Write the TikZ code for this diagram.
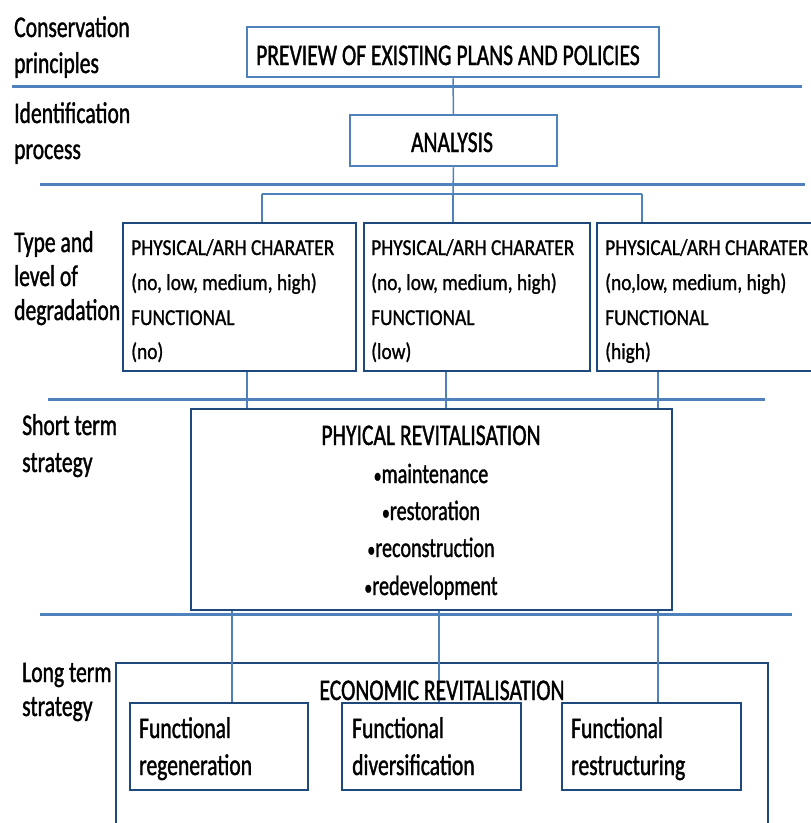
\documentclass[tikz,border=0pt]{standalone}
\usepackage{fontspec}
\setmainfont{Carlito}
\newfontfamily\labfont[FakeStretch=0.72,FakeBold=1.2]{Carlito}
\newfontfamily\boxfont[FakeStretch=0.85,FakeBold=1.0]{Carlito}
\definecolor{sepblue}{RGB}{79,129,189}
\definecolor{navy}{RGB}{31,73,125}
\newcommand{\smbul}{{\fontsize{22}{22}\selectfont•}}
\tikzset{
  seprule/.style={draw=sepblue,line width=3pt},
  conn/.style={draw=sepblue,line width=1.5pt},
  topbox/.style={draw=sepblue,line width=2.5pt,inner sep=0pt},
  navybox/.style={draw=navy,line width=2pt,inner sep=0pt},
  lab/.style={anchor=base west,inner sep=0pt,font=\labfont\fontsize{30}{36}\selectfont},
  big/.style={anchor=base,inner sep=0pt,font=\labfont\fontsize{30}{36}\selectfont},
  mid/.style={anchor=base,inner sep=0pt,font=\labfont\fontsize{30}{34}\selectfont},
  bul/.style={anchor=base,inner sep=0pt,font=\labfont\fontsize{28}{34}\selectfont},
  midl/.style={anchor=base west,inner sep=0pt,font=\labfont\fontsize{30}{34}\selectfont},
  small/.style={anchor=base west,inner sep=0pt,font=\boxfont\fontsize{22.8}{26}\selectfont}
}
\begin{document}
\begin{tikzpicture}[x=1pt,y=-1pt]
\useasboundingbox (0,0) rectangle (811,823);
\clip (0,0) rectangle (811,823);
% separator rules
\coordinate (s1a) at (12,86);  \coordinate (s1b) at (802,86);
\coordinate (s2a) at (40,184); \coordinate (s2b) at (805,184);
\coordinate (s3a) at (48,399); \coordinate (s3b) at (765,399);
\coordinate (s4a) at (40,614); \coordinate (s4b) at (792,614);
\draw[seprule] (s1a) -- (s1b);
\draw[seprule] (s2a) -- (s2b);
\draw[seprule] (s3a) -- (s3b);
\draw[seprule] (s4a) -- (s4b);
% left labels
\node[lab] (c1) at (14,37) {Conservation};
\node[lab] (c2) at (14,73) {principles};
\node[lab] (i1) at (14,123) {Identification};
\node[lab] (i2) at (14,159) {process};
\node[lab] (t1) at (14,252) {Type and};
\node[lab] (t2) at (14,286) {level of};
\node[lab] (t3) at (14,320) {degradation};
\node[lab] (st1) at (22,435) {Short term};
\node[lab] (st2) at (22,472) {strategy};
\node[lab] (lt1) at (22,682) {Long term};
\node[lab] (lt2) at (22,716) {strategy};
% boxes
\node[topbox,minimum width=412pt,minimum height=50pt] (pre) at (453,52) {};
\node[big] (pret) at (448,65) {PREVIEW OF EXISTING PLANS AND POLICIES};
\node[topbox,minimum width=207pt,minimum height=51pt] (ana) at (453.5,140.5) {};
\node[big] (anat) at (452,152) {ANALYSIS};
\node[navybox,minimum width=233pt,minimum height=148pt] (ba) at (239.5,297) {};
\node[navybox,minimum width=226pt,minimum height=148pt] (bb) at (477,297) {};
\node[navybox,minimum width=218pt,minimum height=148pt] (bc) at (706,297) {};
\foreach \n/\x/\p in {a/131/{(no, low, medium, high)},b/371/{(no, low, medium, high)},c/605/{(no,low, medium, high)}}{
  \node[small] (\n1) at (\x,255) {PHYSICAL/ARH CHARATER};
  \node[small] (\n2) at (\x,290) {\p};
  \node[small] (\n3) at (\x,325) {FUNCTIONAL};
}
\node[small] (a4) at (131,359) {(no)};
\node[small] (b4) at (371,359) {(low)};
\node[small] (c4) at (605,359) {(high)};
\node[navybox,minimum width=481pt,minimum height=201pt] (phy) at (431.5,509.5) {};
\node[mid] (phyt) at (431,445) {PHYICAL REVITALISATION};
\node[bul] (p1) at (431,483) {\smbul maintenance};
\node[bul] (p2) at (431,520) {\smbul restoration};
\node[bul] (p3) at (431,557) {\smbul reconstruction};
\node[bul] (p4) at (431,595) {\smbul redevelopment};
\node[navybox,minimum width=652pt,minimum height=200pt] (eco) at (442,763) {};
% connectors
\draw[conn] (pre.south) -- (ana.north);
\coordinate (br) at (453,194);
\coordinate (brl) at (262,194);
\coordinate (brr) at (642,194);
\draw[conn] (ana.south) -- (br);
\draw[conn] (brl) -- (brr);
\draw[conn] (brl) -- (brl |- ba.north);
\draw[conn] (br) -- (br |- bb.north);
\draw[conn] (brr) -- (brr |- bc.north);
\foreach \b/\x in {ba/247,bb/446,bc/658}{
  \coordinate (d\b) at (\x,370);
  \draw[conn] (d\b |- \b.south) -- (d\b |- phy.north);
}
\node[navybox,minimum width=178pt,minimum height=87pt] (fa) at (219,746.5) {};
\node[navybox,minimum width=179pt,minimum height=87pt] (fb) at (431.5,746.5) {};
\node[navybox,minimum width=179pt,minimum height=87pt] (fc) at (651.5,746.5) {};
\foreach \f/\x in {fa/232,fb/439,fc/658}{
  \coordinate (e\f) at (\x,610);
  \draw[conn] (e\f |- phy.south) -- (e\f |- \f.north);
}
\node[mid] (ecot) at (442,700) {ECONOMIC REVITALISATION};
\node[midl] (fa1) at (139,738) {Functional};
\node[midl] (fa2) at (139,775) {regeneration};
\node[midl] (fb1) at (352,738) {Functional};
\node[midl] (fb2) at (352,775) {diversification};
\node[midl] (fc1) at (571,738) {Functional};
\node[midl] (fc2) at (571,775) {restructuring};
\end{tikzpicture}
\end{document}
